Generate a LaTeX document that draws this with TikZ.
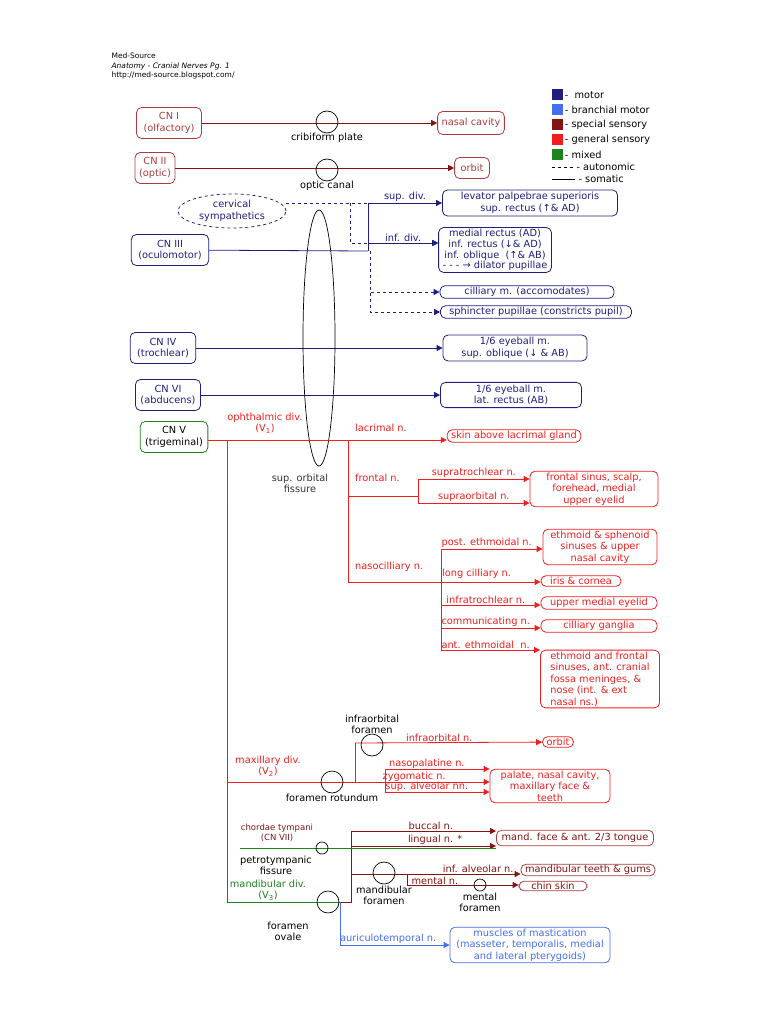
\documentclass[tikz,border=0pt]{standalone}
\usepackage{fontspec}
\setmainfont{DejaVu Sans}
\usepackage{tikz}
\usetikzlibrary{arrows.meta,shapes.geometric}
\definecolor{motor}{RGB}{30,30,130}
\definecolor{bmotor}{RGB}{70,110,240}
\definecolor{spec}{RGB}{130,20,20}
\definecolor{specbox}{RGB}{170,60,60}
\definecolor{gen}{RGB}{240,30,30}
\definecolor{mixed}{RGB}{30,130,30}
\tikzset{
  box/.style={draw, rounded corners=5pt, align=center, inner xsep=4pt, inner ysep=2.5pt, line width=0.8pt},
  cn/.style={box, inner xsep=7pt, minimum height=31pt},
  hole/.style={draw=black, circle, minimum size=22pt, inner sep=0pt, line width=0.7pt},
  smallhole/.style={draw=black, circle, minimum size=12pt, inner sep=0pt, line width=0.7pt},
  nerve/.style={line width=0.8pt},
  tip/.style={-{Triangle[length=6pt,width=6pt]}},
  lbl/.style={font=\fontsize{9.8}{11}\selectfont, inner sep=0pt, align=center},
}
\begin{document}
\begin{tikzpicture}[x=1pt,y=-1pt,font=\fontsize{9.8}{11.5}\selectfont]
\useasboundingbox (0,0) rectangle (768,1024);
% header
\node[anchor=west, font=\fontsize{7.5}{9.5}\selectfont, align=left] (head) at (108,66)
  {Med-Source\\\textit{Anatomy - Cranial Nerves Pg. 1}\\http://med-source.blogspot.com/};
% legend
\foreach \c/\t [count=\i] in {motor/{-\ \ motor}, bmotor/{- branchial motor}, spec/{- special sensory}, gen/{- general sensory}, mixed/{- mixed}}
  \node[fill=\c, minimum size=11pt, inner sep=0pt, label={[lbl, xshift=2pt]east:\t}] (leg\i) at (557,80+15*\i) {};
\coordinate (da) at (552,167); \coordinate (db) at (573,167);
\draw[dashed, line width=0.8pt] (da) -- (db) node[lbl, anchor=west] {\ - autonomic};
\coordinate (sa) at (552,179); \coordinate (sb) at (575,179);
\draw[line width=0.8pt] (sa) -- (sb) node[lbl, anchor=west] {\ - somatic};

% CN I and CN II
\node[cn, draw=specbox, text=specbox] (cnI) at (169,123) {CN I\\(olfactory)};
\node[box, draw=specbox, text=specbox, minimum height=23pt] (nasal) at (471,123) {nasal cavity};
\node[cn, draw=specbox, text=specbox, inner xsep=4pt] (cnII) at (155,168) {CN II\\(optic)};
\node[box, draw=specbox, text=specbox, minimum height=21pt, inner xsep=6pt] (orbitA) at (472,168) {orbit};
\draw[nerve, spec, tip] (cnI) -- (nasal);
\draw[nerve, spec, tip] (cnII.east |- orbitA) -- (orbitA);
\node[hole, label={[lbl]below:cribiform plate}] (crib) at (327,122) {};
\node[hole, label={[lbl]below:optic canal}] (optic) at (327,170) {};

% CN III
\node[cn, draw=motor, text=motor] (cnIII) at (170,250) {CN III\\(oculomotor)};
\node[draw=motor, text=motor, dashed, ellipse, line width=0.8pt, minimum width=108pt, minimum height=34pt, inner sep=0pt, align=center] (cerv) at (232,211) {cervical\\sympathetics};
\node[box, draw=motor, text=motor, minimum width=175pt] (lev) at (530,203) {levator palpebrae superioris\\sup. rectus (↑\& AD)};
\node[box, draw=motor, text=motor, minimum width=105pt, inner ysep=1.5pt, font=\fontsize{9.8}{10.8}\selectfont] (med) at (495,250) {medial rectus (AD)\\inf. rectus (↓\& AD)\\inf. oblique \ (↑\& AB)\\- - - → dilator pupillae};
\node[box, draw=motor, text=motor, minimum width=174pt, inner ysep=1.5pt] (cil) at (527,292) {cilliary m. (accomodates)};
\node[box, draw=motor, text=motor, minimum width=191pt, inner ysep=1.5pt] (sph) at (536,312) {sphincter pupillae (constricts pupil)};
\coordinate (j3) at (368,251);
\draw[nerve, motor] (cnIII) -- (j3);
\draw[nerve, motor, tip] (j3) |- (lev.west) node[pos=0.75, above=1pt, lbl] {sup. div.};
\draw[nerve, motor, tip] (j3 |- 0,243) -- (med.west |- 0,243) node[pos=0.5, above=1pt, lbl] {inf. div.};
\coordinate (s1) at (350,203);
\draw[nerve, motor, dashed] (cerv.east |- s1) -- (lev.west);
\draw[nerve, motor, dashed, tip] (s1) |- (med.west |- 0,243);
\coordinate (s2) at (370,251);
\draw[nerve, motor, dashed, tip] (s2) |- (cil.west);
\draw[nerve, motor, dashed, tip] (s2) |- (sph.west);

% CN IV, CN VI
\node[cn, draw=motor, text=motor] (cnIV) at (163,348) {CN IV\\(trochlear)};
\node[box, draw=motor, text=motor, minimum width=144pt] (obl) at (515,348) {1/6 eyeball m.\\sup. oblique (↓ \& AB)};
\draw[nerve, motor, tip] (cnIV) -- (obl);
\node[cn, draw=motor, text=motor, inner xsep=5pt] (cnVI) at (168,395) {CN VI\\(abducens)};
\node[box, draw=motor, text=motor, minimum width=141pt] (lat) at (511,395) {1/6 eyeball m.\\lat. rectus (AB)};
\draw[nerve, motor, tip] (cnVI) -- (lat);

% sup. orbital fissure
\node[draw=black, ellipse, line width=0.7pt, minimum width=32pt, minimum height=256pt, inner sep=0pt] (sof) at (319,338) {};
\node[lbl, text=black!80] (soft) at (300,483) {sup. orbital\\fissure};

% CN V ophthalmic
\node[cn, draw=mixed, text=black, inner xsep=5pt] (cnV) at (174,437) {CN V\\(trigeminal)};
\node[box, draw=gen, text=gen, inner ysep=1.5pt] (skin) at (514,436) {skin above lacrimal gland};
\coordinate (v0) at (227,440);
\coordinate (vm) at (227,505);
\coordinate (vb) at (227,902);
\draw[nerve, gen, tip] (cnV.east |- v0) -- (skin.west |- v0);
\node[lbl, text=gen] (oph) at (265,423) {ophthalmic div.\\(V\textsubscript{1})};
\draw[nerve, gen] (v0) -- (vm);
\draw[nerve, mixed] (vm) -- (vb);
\node[lbl, text=gen, anchor=west] (lac) at (355,428) {lacrimal n.};
\coordinate (f0) at (348,440);
\coordinate (f1) at (348,496);
\coordinate (f2) at (418,496);
\coordinate (nc) at (348,582);
\node[box, draw=gen, text=gen, minimum width=128pt, inner ysep=1.5pt] (front) at (594,489) {frontal sinus, scalp,\\forehead, medial\\upper eyelid};
\draw[nerve, gen] (f0) -- (nc) (f1) -- (f2);
\draw[nerve, gen, tip] (f2) |- (front.west |- 0,479) node[pos=0.75, above=1pt, lbl] {supratrochlear n.};
\draw[nerve, gen, tip] (f2) |- (front.west |- 0,503) node[pos=0.75, above=1pt, lbl] {supraorbital n.};
\node[lbl, text=gen, anchor=west] (frn) at (355,478) {frontal n.};
\node[lbl, text=gen, anchor=west] (nasn) at (355,567) {nasocilliary n.};
\node[box, draw=gen, text=gen, minimum width=114pt, inner ysep=1.5pt] (eth) at (600,547) {ethmoid \& sphenoid\\sinuses \& upper\\nasal cavity};
\node[box, draw=gen, text=gen, minimum width=80pt, inner ysep=1.5pt] (iris) at (581,581) {iris \& cornea};
\node[box, draw=gen, text=gen, minimum width=116pt, inner ysep=1.5pt] (upper) at (599,603) {upper medial eyelid};
\node[box, draw=gen, text=gen, minimum width=116pt, inner ysep=1.5pt] (ggl) at (599,626) {cilliary ganglia};
\node[box, draw=gen, text=gen, minimum width=119pt, align=left, inner ysep=1.5pt] (ant) at (600,679) {ethmoid and frontal\\sinuses, ant. cranial\\fossa meninges, \&\\nose (int. \& ext\\nasal ns.)};
\draw[nerve, gen, tip] (nc) -- (iris.west |- nc);
\coordinate (n0) at (441,549);
\coordinate (n1) at (441,650);
\draw[nerve, gen] (n0) -- (n1);
\draw[nerve, gen, tip] (n0) -- (eth.west |- n0) node[pos=0.45, above=1pt, lbl] {post. ethmoidal n.};
\node[lbl, text=gen, anchor=south west] (lcil) at (442,579) {long cilliary n.};
\draw[nerve, gen, tip] (n0 |- 0,605) -- (upper.west |- 0,605) node[pos=0.45, above=1pt, lbl] {infratrochlear n.};
\draw[nerve, gen, tip] (n0 |- 0,628) -- (ggl.west |- 0,628) node[pos=0.45, above=1pt, lbl] {communicating n.};
\draw[nerve, gen, tip] (n1) -- (ant.west |- n1) node[pos=0.45, above=1pt, lbl] {ant. ethmoidal \ n.};

% maxillary
\coordinate (m0) at (227,782);
\coordinate (m1) at (355,782);
\coordinate (m2) at (355,743);
\coordinate (m3) at (385,769);
\coordinate (m4) at (385,792);
\node[box, draw=gen, text=gen, inner ysep=1.5pt] (orbitB) at (558,742) {orbit};
\node[box, draw=gen, text=gen, minimum width=120pt, inner ysep=1.5pt] (pal) at (550,786) {palate, nasal cavity,\\maxillary face \&\\teeth};
\node[lbl, text=gen] (maxd) at (268,766) {maxillary div.\\(V\textsubscript{2})};
\draw[nerve, gen] (m0) -- (m1) -- (m2);
\draw[nerve, gen, tip] (m2) -- (orbitB) node[pos=0.45, above=1pt, lbl] {infraorbital n.};
\draw[nerve, gen] (m3) -- (m4);
\draw[nerve, gen, tip] (m3) -- (pal.west |- m3) node[pos=0.4, above, lbl] {nasopalatine n.};
\draw[nerve, gen, tip] (m1) -- (pal.west |- m1) node[pos=0.44, above, lbl] {zygomatic n.};
\draw[nerve, gen, tip] (m4) -- (pal.west |- m4) node[pos=0.4, above, lbl] {sup. alveolar nn.};
\node[hole, label={[lbl]below:foramen rotundum}] (rot) at (332,782) {};
\node[hole, label={[lbl]above:infraorbital\\foramen}] (infr) at (372,745) {};

% mandibular
\coordinate (d1) at (351,902);
\coordinate (d2) at (351,831);
\coordinate (d3) at (351,874);
\coordinate (d4) at (407,874);
\coordinate (d5) at (407,885);
\coordinate (pt) at (240,848);
\coordinate (au) at (340,902);
\node[box, draw=specbox, text=spec, minimum width=157pt, inner ysep=3pt] (mand) at (575,838) {mand. face \& ant. 2/3 tongue};
\node[box, draw=specbox, text=spec, minimum width=134pt, inner ysep=1pt, inner xsep=2pt] (teeth) at (588,870) {mandibular teeth \& gums};
\node[box, draw=specbox, text=spec, minimum width=68pt, inner ysep=1pt] (chin) at (553,886) {chin skin};
\node[box, draw=bmotor, text=bmotor, minimum width=160pt, inner ysep=1.5pt] (mast) at (530,945) {muscles of mastication\\(masseter, temporalis, medial\\and lateral pterygoids)};
\node[lbl, text=mixed] (mandd) at (268,890) {mandibular div.\\(V\textsubscript{3})};
\draw[nerve, mixed] (vb) -- (au);
\draw[nerve, spec] (au) -- (d1) -- (d2);
\draw[nerve, spec, tip] (d2) -- (mand.west |- d2) node[pos=0.55, above=1pt, lbl] {buccal n.};
\draw[nerve, spec, tip] (d1 |- 0,846) -- (mand.west |- 0,846) node[pos=0.58, above=1pt, lbl] {lingual n. *};
\draw[nerve, mixed] (pt) -- (mand.west |- 0,848);
\draw[nerve, spec, tip] (d3) -- (teeth.west |- d3) node[pos=0.75, above=1pt, lbl] {inf. alveolar n.};
\draw[nerve, spec] (d4) -- (d5);
\draw[nerve, spec, tip] (d5) -- (chin.west |- d5) node[pos=0.25, above, lbl] {mental n.};
\draw[nerve, bmotor, tip] (au) |- (mast.west) node[pos=0.72, above=1pt, lbl] {auriculotemporal n.};
\node[lbl, text=spec, font=\fontsize{8.5}{10}\selectfont] (chorda) at (277,833) {chordae tympani\\(CN VII)};
\node[smallhole, label={[lbl, xshift=-46pt, yshift=-1pt]below:petrotympanic\\fissure}] (petro) at (322,848) {};
\node[hole, label={[lbl, xshift=-40pt, yshift=-8pt]below:foramen\\ovale}] (oval) at (328,902) {};
\node[hole, label={[lbl, yshift=-1pt]below:mandibular\\foramen}] (mandf) at (384,873) {};
\node[smallhole, label={[lbl, yshift=-1pt]below:mental\\foramen}] (ment) at (480,885) {};
\end{tikzpicture}
\end{document}
